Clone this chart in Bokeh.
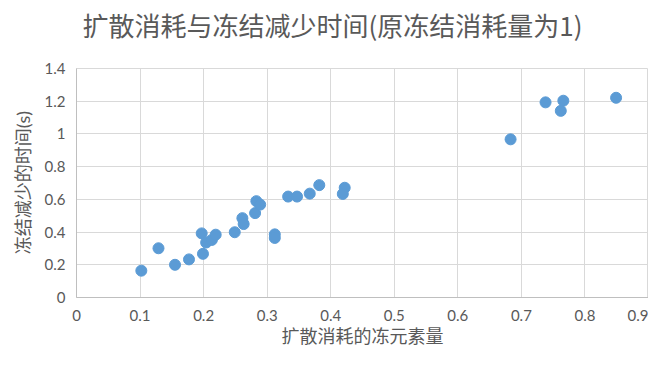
from bokeh.plotting import figure
from bokeh.models import Range1d, FixedTicker, ColumnDataSource, Title
from bokeh.embed import file_html
from bokeh.resources import INLINE

title_text = "扩散消耗与冻结减少时间(原冻结消耗量为1)"
x_label = "扩散消耗的冻元素量"
y_label = "冻结减少的时间(s)"

x_vals = [0.102, 0.129, 0.155, 0.177, 0.197, 0.199, 0.204, 0.213, 0.219, 0.249,
          0.261, 0.263, 0.281, 0.283, 0.289, 0.312, 0.312, 0.333, 0.347, 0.367,
          0.382, 0.422, 0.419, 0.683, 0.738, 0.766, 0.762, 0.849]
y_vals = [0.164, 0.301, 0.200, 0.233, 0.392, 0.267, 0.336, 0.352, 0.384, 0.399,
          0.485, 0.449, 0.516, 0.589, 0.568, 0.386, 0.364, 0.617, 0.617, 0.635,
          0.687, 0.671, 0.633, 0.967, 1.193, 1.203, 1.141, 1.221]

x_ticks = [0, 0.1, 0.2, 0.3, 0.4, 0.5, 0.6, 0.7, 0.8, 0.9]
x_tick_labels = ["0", "0.1", "0.2", "0.3", "0.4", "0.5", "0.6", "0.7", "0.8", "0.9"]
y_ticks = [0, 0.2, 0.4, 0.6, 0.8, 1.0, 1.2, 1.4]
y_tick_labels = ["0", "0.2", "0.4", "0.6", "0.8", "1", "1.2", "1.4"]

FONT = "Noto Sans CJK SC"
NUM_FONT = "Lato"
LABEL_FONT = "Lato, 'Noto Sans CJK SC'"
GRAY = "#595959"

p = figure(width=648, height=355, output_backend="svg", toolbar_location=None,
           title=None,
           x_range=Range1d(0, 0.9), y_range=Range1d(0, 1.4),
           min_border_left=64, min_border_right=0, min_border_top=61, min_border_bottom=58)

# spacer (closest to the frame) then the chart title above it
spacer = Title(text=" ", text_font=NUM_FONT, text_font_size="16px", standoff=2)
main_title = Title(text=title_text, align="left", offset=6,
                   text_font=FONT, text_font_size="26px", text_color=GRAY,
                   text_font_style="normal", standoff=6)
p.add_layout(spacer, "above")
p.add_layout(main_title, "above")

p.outline_line_color = "#d9d9d9"
p.background_fill_color = "white"
p.border_fill_color = "white"

src = ColumnDataSource(dict(x=x_vals, y=y_vals))
p.scatter("x", "y", source=src, size=11, fill_color="#5b9bd5", line_color="#5b9bd5")

p.xaxis.ticker = FixedTicker(ticks=x_ticks)
p.yaxis.ticker = FixedTicker(ticks=y_ticks)
p.xaxis.major_label_overrides = {t: l for t, l in zip(x_ticks, x_tick_labels)}
p.yaxis.major_label_overrides = {t: l for t, l in zip(y_ticks, y_tick_labels)}
for ax in (p.xaxis, p.yaxis):
    ax.axis_line_color = "#bfbfbf"
    ax.major_tick_line_color = None
    ax.minor_tick_line_color = None
    ax.major_tick_out = 0
    ax.major_tick_in = 0
    ax.minor_tick_out = 0
    ax.major_label_text_font = NUM_FONT
    ax.major_label_text_font_size = "15px"
    ax.major_label_text_color = GRAY
    ax.axis_label_text_font = LABEL_FONT
    ax.axis_label_text_font_size = "18px"
    ax.axis_label_text_color = GRAY
    ax.axis_label_text_font_style = "normal"
p.xaxis.axis_label = x_label
p.yaxis.axis_label = y_label
p.xaxis.major_label_standoff = 12
p.yaxis.major_label_standoff = 11
p.xaxis.axis_label_standoff = 1
p.yaxis.axis_label_standoff = 8

# thin spacer on the far left so the frame starts where the reference's does
left_spacer = Title(text=" ", text_font=NUM_FONT, text_font_size="5px", standoff=0)
p.add_layout(left_spacer, "left")

p.xgrid.grid_line_color = "#d9d9d9"
p.ygrid.grid_line_color = "#d9d9d9"

open("out.html", "w").write(file_html(p, INLINE))
